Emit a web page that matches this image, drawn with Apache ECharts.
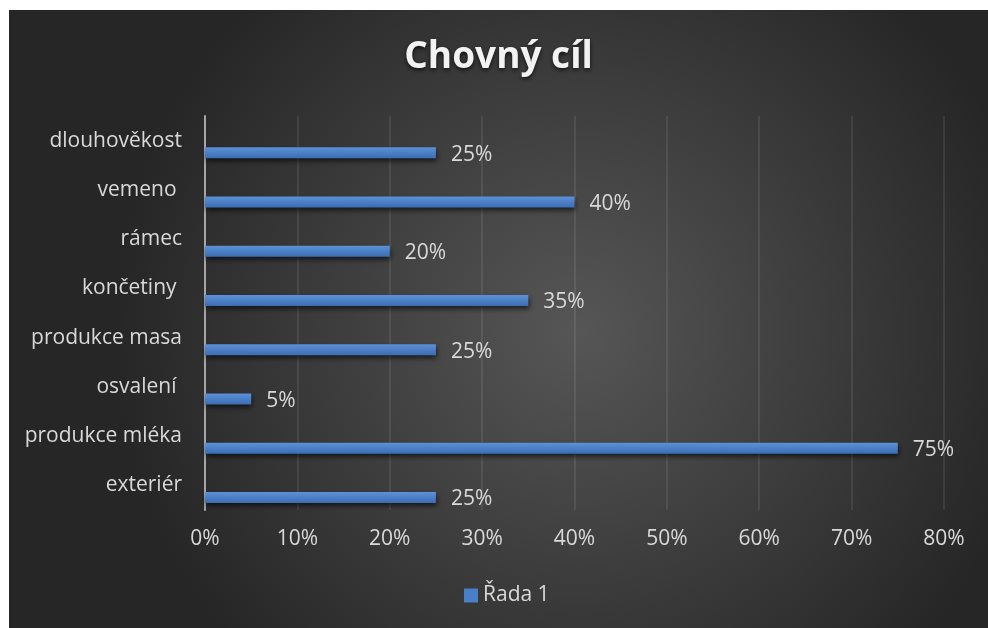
<!DOCTYPE html>
<html>
<head>
<meta charset="utf-8">
<script src="https://cdn.jsdelivr.net/npm/echarts@6/dist/echarts.min.js"></script>
<style>
html,body{margin:0;padding:0;background:#ffffff;width:988px;height:628px;overflow:hidden;}
#chart{position:absolute;left:9px;top:10px;width:979px;height:618px;}
</style>
</head>
<body>
<div id="chart"></div>
<script>
const categories = ['exteriér', 'produkce mléka', 'osvalení ', 'produkce masa', 'končetiny ', 'rámec', 'vemeno ', 'dlouhověkost'];
const values = [0.25, 0.75, 0.05, 0.25, 0.35, 0.20, 0.40, 0.25];
const seriesName = 'Řada 1';
const titleText = 'Chovný cíl';
const axisMax = 0.8;
const axisInterval = 0.1;

const chart = echarts.init(document.getElementById('chart'), null, {renderer: 'canvas'});
const txt = '#d9d9d9';
const font = '"Open Sans", Lato, sans-serif';
const fs = 21;
chart.setOption({
  backgroundColor: {
    type: 'radial', x: 0.58, y: 0.52, r: 0.75,
    colorStops: [{offset: 0, color: '#565656'}, {offset: 1, color: '#262626'}]
  },
  title: {
    text: titleText, left: 'center', top: 24,
    textStyle: {
      color: '#f2f2f2', fontSize: 37, fontWeight: 'bold', fontFamily: font,
      textShadowColor: 'rgba(0,0,0,0.7)', textShadowBlur: 4, textShadowOffsetY: 2
    }
  },
  legend: {
    bottom: 17, left: 450, icon: 'rect', itemWidth: 14, itemHeight: 14, itemGap: 7,
    data: [{name: seriesName, itemStyle: {color: '#4a7fc8'}}],
    textStyle: {color: txt, fontSize: fs, fontFamily: font}
  },
  grid: {left: 196, right: 44, top: 106, bottom: 118, containLabel: false},
  xAxis: {
    type: 'value', min: 0, max: axisMax, interval: axisInterval,
    axisLine: {show: false}, axisTick: {show: false},
    splitLine: {show: true, lineStyle: {color: 'rgba(255,255,255,0.11)', width: 1.5}},
    axisLabel: {
      color: txt, fontSize: fs, fontFamily: font, margin: 19,
      formatter: v => Math.round(v * 100) + '%'
    }
  },
  yAxis: {
    type: 'category', data: categories,
    axisLine: {show: true, lineStyle: {color: '#a6a6a6', width: 2}},
    axisTick: {show: false},
    axisLabel: {color: txt, fontSize: fs, fontFamily: font, margin: 23}
  },
  series: [
    {
      name: '_empty', type: 'bar', data: categories.map(() => null),
      barWidth: 11, barGap: '120%', silent: true
    },
    {
      name: seriesName, type: 'bar', data: values,
      barWidth: 11, barGap: '120%',
      itemStyle: {
        color: {type: 'linear', x: 0, y: 0, x2: 0, y2: 1,
          colorStops: [{offset: 0, color: '#5d91d8'}, {offset: 1, color: '#3b6db3'}]},
        shadowColor: 'rgba(0,0,0,0.6)', shadowBlur: 5, shadowOffsetY: 3, shadowOffsetX: 1
      },
      label: {
        show: true, position: 'right', distance: 15, offset: [0, 2],
        color: txt, fontSize: fs, fontFamily: font,
        formatter: p => Math.round(p.value * 100) + '%'
      }
    }
  ]
});
</script>
</body>
</html>
